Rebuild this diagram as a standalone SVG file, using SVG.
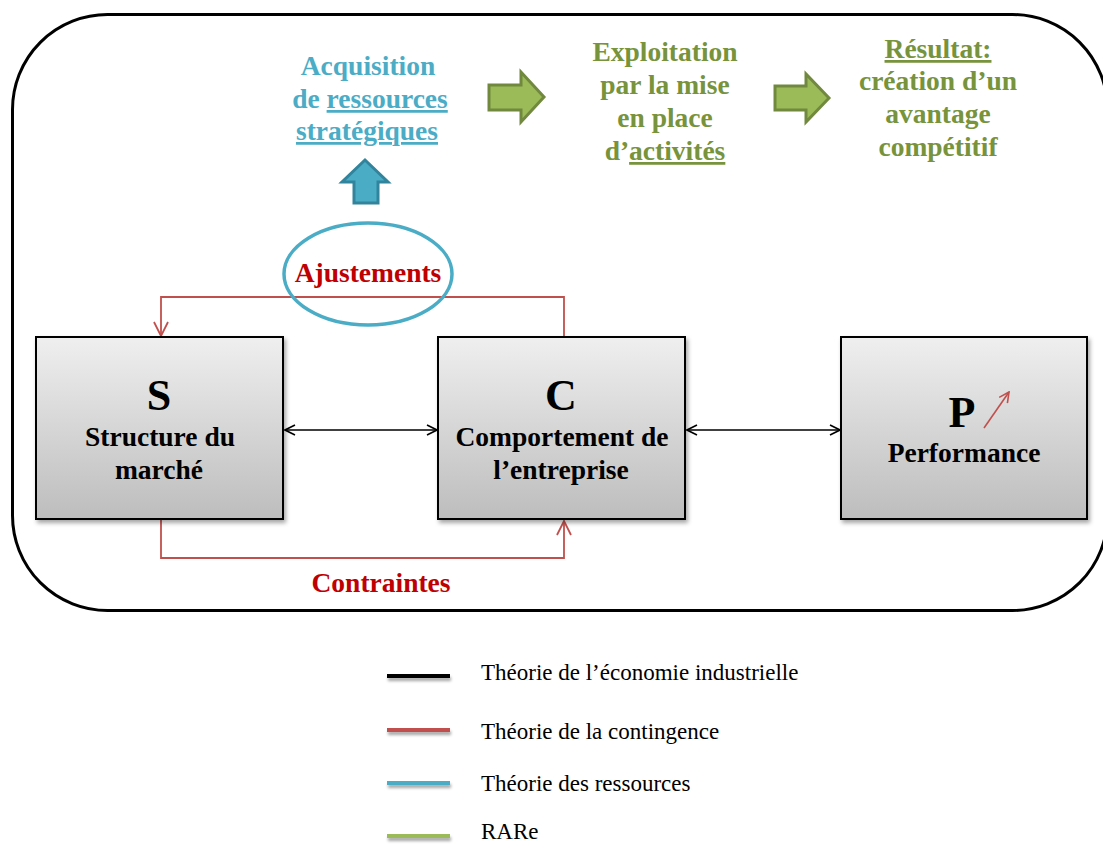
<svg xmlns="http://www.w3.org/2000/svg" width="1103" height="844" viewBox="0 0 1103 844">
<defs>
<linearGradient id="boxg" x1="0" y1="0" x2="0" y2="1">
<stop offset="0" stop-color="#efefef"/>
<stop offset="1" stop-color="#bdbdbd"/>
</linearGradient>
<filter id="sh" x="-10%" y="-10%" width="130%" height="130%">
<feDropShadow dx="2" dy="3" stdDeviation="2" flood-color="#000" flood-opacity="0.35"/>
</filter>
<filter id="lsh" x="-10%" y="-100%" width="130%" height="400%">
<feDropShadow dx="1" dy="3" stdDeviation="1.5" flood-color="#000" flood-opacity="0.35"/>
</filter>
<marker id="openB" viewBox="0 0 12 12" refX="11" refY="6" markerWidth="12" markerHeight="12" markerUnits="userSpaceOnUse" orient="auto-start-reverse">
<path d="M1,1 L11,6 L1,11" fill="none" stroke="#000" stroke-width="1.6"/>
</marker>
<marker id="openR" viewBox="0 0 16 16" refX="15" refY="8" markerWidth="16" markerHeight="16" markerUnits="userSpaceOnUse" orient="auto">
<path d="M1,1 L15,8 L1,15" fill="none" stroke="#c0504d" stroke-width="1.8"/>
</marker>
<marker id="smallR" viewBox="0 0 12 12" refX="11" refY="6" markerWidth="12" markerHeight="12" markerUnits="userSpaceOnUse" orient="auto">
<path d="M1,1 L11,6 L1,11" fill="none" stroke="#c0504d" stroke-width="1.6"/>
</marker>
</defs>
<style>
.box{fill:url(#boxg);stroke:#000;stroke-width:2;filter:url(#sh)}
.big{font-family:"Liberation Serif",serif;font-weight:bold;font-size:44px;fill:#000;text-anchor:middle}
.lbl{font-family:"Liberation Serif",serif;font-weight:bold;font-size:27.5px;fill:#000;text-anchor:middle}
.red{font-family:"Liberation Serif",serif;font-weight:bold;font-size:27.5px;fill:#c00000;text-anchor:middle}
.blue{font-family:"Liberation Serif",serif;font-weight:bold;font-size:27.5px;fill:#4bacc6;text-anchor:middle}
.green{font-family:"Liberation Serif",serif;font-weight:bold;font-size:27.5px;fill:#77933c;text-anchor:middle}
.leg{font-family:"Liberation Serif",serif;font-size:23px;fill:#000}
.legl{filter:url(#lsh)}
</style>
<rect x="0" y="0" width="1103" height="844" fill="#fff"/>
<rect x="12.5" y="14.5" width="1095" height="596" rx="95" ry="95" fill="none" stroke="#000" stroke-width="3"/>

<g id="connectors">
<line x1="285" y1="430" x2="437" y2="430" stroke="#000" stroke-width="1.6" marker-start="url(#openB)" marker-end="url(#openB)"/>
<line x1="687" y1="430" x2="840" y2="430" stroke="#000" stroke-width="1.6" marker-start="url(#openB)" marker-end="url(#openB)"/>
<polyline points="564,337 564,297 161,297 161,336" fill="none" stroke="#c0504d" stroke-width="1.8" marker-end="url(#openR)"/>
<polyline points="161,519 161,558 564,558 564,521" fill="none" stroke="#c0504d" stroke-width="1.8" marker-end="url(#openR)"/>
</g>

<g id="node-S">
<rect class="box" x="36" y="337" width="247" height="182"/>
<text class="big" x="159" y="410">S</text>
<text class="lbl" x="160" y="446">Structure du</text>
<text class="lbl" x="159" y="479">marché</text>
</g>
<g id="node-C">
<rect class="box" x="438" y="337" width="247" height="182"/>
<text class="big" x="561" y="410">C</text>
<text class="lbl" x="562" y="446">Comportement de</text>
<text class="lbl" x="561" y="479">l’entreprise</text>
</g>
<g id="node-P">
<rect class="box" x="841" y="337" width="246" height="182"/>
<text class="big" x="962" y="427">P</text>
<text class="lbl" x="964" y="462">Performance</text>
<line x1="984" y1="428" x2="1009" y2="392" stroke="#c0504d" stroke-width="1.6" marker-end="url(#smallR)"/>
</g>

<g id="ajustements">
<ellipse cx="368" cy="274" rx="84" ry="51" fill="none" stroke="#4bacc6" stroke-width="3.5"/>
<text class="red" x="368" y="282">Ajustements</text>
</g>
<g id="contraintes">
<text class="red" x="381" y="592">Contraintes</text>
</g>

<g id="acquisition">
<text class="blue" x="368" y="75">Acquisition</text>
<text class="blue" x="370" y="108">de <tspan text-decoration="underline">ressources</tspan></text>
<text class="blue" x="367" y="140" text-decoration="underline">stratégiques</text>
</g>
<g id="blue-arrow">
<polygon points="365,160 388,182 378,182 378,203 354,203 354,182 342,182" fill="#4bacc6" stroke="#31849b" stroke-width="3" stroke-linejoin="miter"/>
</g>

<g id="exploitation">
<text class="green" x="665" y="61">Exploitation</text>
<text class="green" x="665" y="94">par la mise</text>
<text class="green" x="665" y="127">en place</text>
<text class="green" x="665" y="160">d’<tspan text-decoration="underline">activités</tspan></text>
</g>
<g id="green-arrow-1">
<polygon points="489,85 521,85 521,72 544,97 521,122 521,110 489,110" fill="#9bbb59" stroke="#71893f" stroke-width="3"/>
</g>
<g id="green-arrow-2">
<polygon points="775,86 806,86 806,74 829,98 806,122 806,110 775,110" fill="#9bbb59" stroke="#71893f" stroke-width="3"/>
</g>
<g id="resultat">
<text class="green" x="938" y="58" text-decoration="underline">Résultat:</text>
<text class="green" x="938" y="90">création d’un</text>
<text class="green" x="938" y="123">avantage</text>
<text class="green" x="938" y="156">compétitif</text>
</g>

<g id="legend">
<rect class="legl" x="387" y="674" width="63" height="4" fill="#000"/>
<text class="leg" x="481" y="680">Théorie de l’économie industrielle</text>
<rect class="legl" x="387" y="728" width="63" height="4" fill="#c0504d"/>
<text class="leg" x="481" y="739">Théorie de la contingence</text>
<rect class="legl" x="387" y="781" width="63" height="4" fill="#4bacc6"/>
<text class="leg" x="481" y="791">Théorie des ressources</text>
<rect class="legl" x="387" y="834" width="63" height="4" fill="#9bbb59"/>
<text class="leg" x="481" y="839">RARe</text>
</g>
</svg>
